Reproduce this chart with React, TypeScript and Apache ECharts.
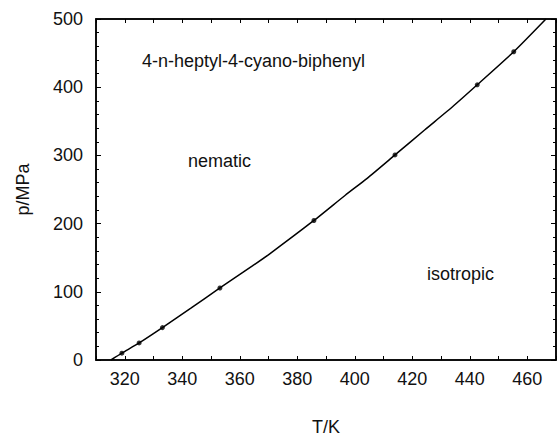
import React, { useEffect, useRef } from "react";
import * as echarts from "echarts";

// Measured transition points (markers)
const pointT = [319.0, 325.0, 333.1, 353.1, 385.8, 414.0, 442.6, 455.3];
const pointP = [10, 25, 47.5, 105.6, 204.6, 300.7, 403.5, 452];

// Drawn transition line
const curveT = [315.2, 319.0, 325.0, 333.1, 343.0, 353.1, 364.4, 370.2, 385.8, 396.7, 404.2, 414.0, 424.4, 434.2, 442.6, 455.3, 466.5];
const curveP = [0, 10, 25, 47.5, 76, 105.6, 138, 155, 204.6, 241.6, 266, 300.7, 337.6, 372, 403.5, 452, 500];

const xTickLabels = [320, 340, 360, 380, 400, 420, 440, 460];
const yTickLabels = [0, 100, 200, 300, 400, 500];

const FONT = "Liberation Sans, Arial, Helvetica, sans-serif";

export default function App() {
  const ref = useRef<HTMLDivElement>(null);
  useEffect(() => {
    if (!ref.current) return;
    const chart = echarts.init(ref.current, undefined, { renderer: "svg" });
    const xBase = {
      type: "value" as const,
      min: 310,
      max: 470,
      interval: 10,
      splitLine: { show: false },
      axisLine: { show: true, onZero: false, lineStyle: { color: "#000", width: 1.5 } },
      axisTick: { show: true, inside: true, length: 4, lineStyle: { color: "#000", width: 1 } },
    };
    const yBase = {
      type: "value" as const,
      min: 0,
      max: 500,
      interval: 100,
      splitLine: { show: false },
      axisLine: { show: true, onZero: false, lineStyle: { color: "#000", width: 1.5 } },
      axisTick: { show: true, inside: true, length: 5, lineStyle: { color: "#000", width: 1 } },
      minorTick: { show: true, splitNumber: 5, length: 3, lineStyle: { color: "#000", width: 1 } },
    };
    chart.setOption({
      animation: false,
      backgroundColor: "#fff",
      textStyle: { fontFamily: FONT },
      grid: {
        left: 96,
        top: 19,
        right: 1.5,
        bottom: 75,
        containLabel: false,
        show: true,
        borderColor: "#000",
        borderWidth: 1.5,
        backgroundColor: "transparent",
      },
      xAxis: [
        {
          ...xBase,
          position: "bottom",
          name: "T/K",
          nameLocation: "middle",
          nameGap: 58,
          nameTextStyle: { fontSize: 18, color: "#111", fontFamily: FONT },
          axisLabel: {
            fontSize: 18,
            color: "#111",
            margin: 10,
            fontFamily: FONT,
            formatter: (v: number) => (xTickLabels.includes(v) ? String(v) : ""),
          },
        },
        { ...xBase, position: "top", axisLabel: { show: false } },
      ],
      yAxis: [
        {
          ...yBase,
          position: "left",
          name: "p/MPa",
          nameLocation: "middle",
          nameRotate: 90,
          nameGap: 64,
          nameTextStyle: { fontSize: 18, color: "#111", fontFamily: FONT },
          axisLabel: {
            fontSize: 18,
            color: "#111",
            margin: 13,
            fontFamily: FONT,
            formatter: (v: number) => (yTickLabels.includes(v) ? String(v) : ""),
          },
        },
        { ...yBase, position: "right", axisLabel: { show: false } },
      ],
      graphic: [
        { type: "text", left: 142, top: 52, style: { text: "4-n-heptyl-4-cyano-biphenyl", fontSize: 18, fill: "#111", fontFamily: FONT } },
        { type: "text", left: 188, top: 152, style: { text: "nematic", fontSize: 18, fill: "#111", fontFamily: FONT } },
        { type: "text", left: 427, top: 265, style: { text: "isotropic", fontSize: 18, fill: "#111", fontFamily: FONT } },
      ],
      series: [
        {
          type: "line",
          data: curveT.map((t, i) => [t, curveP[i]]),
          showSymbol: false,
          symbol: "none",
          smooth: 0.2,
          lineStyle: { color: "#000", width: 1.5 },
          silent: true,
          z: 2,
        },
        {
          type: "scatter",
          data: pointT.map((t, i) => [t, pointP[i]]),
          symbol: "circle",
          symbolSize: 5,
          itemStyle: { color: "#000" },
          z: 3,
        },
      ],
    });
    return () => chart.dispose();
  }, []);
  return <div ref={ref} style={{ width: 559, height: 441, position: "absolute", left: 0, top: 0 }} />;
}
